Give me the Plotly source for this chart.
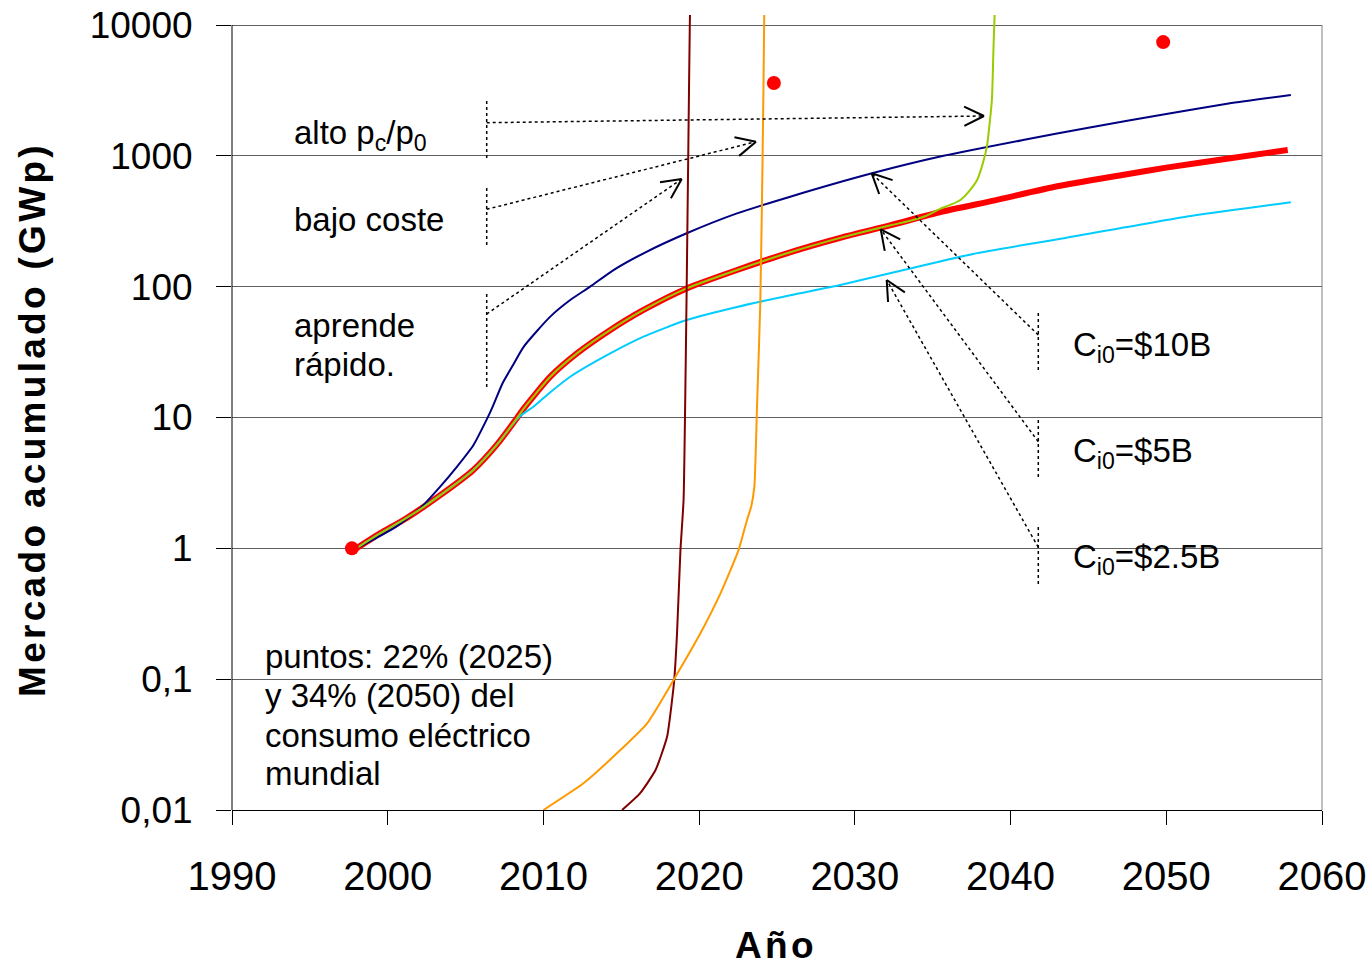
import math
import plotly.graph_objects as go

# ---------------- data ----------------
x_ticks = [1990, 2000, 2010, 2020, 2030, 2040, 2050, 2060]
y_tickvals = [0.01, 0.1, 1, 10, 100, 1000, 10000]
y_ticktext = ["0,01", "0,1", "1", "10", "100", "1000", "10000"]

# C_i0 = $10B (navy)
navy_years = [1998.0, 2000.37, 2002.08, 2003.37, 2004.44, 2005.51, 2006.4, 2006.7, 2007.4,
              2008.0, 2008.73, 2010.44, 2011.72, 2013.0, 2014.5, 2016.43, 2019.2, 2022.43,
              2025.85, 2031.1, 2035.7, 2040.8, 2045.0, 2050.0, 2054.0, 2058.0]
navy_vals = [1.0, 1.42, 2.02, 2.96, 4.2, 6.17, 9.9, 11.8, 18.5,
             24.6, 34.7, 59, 79, 100, 134, 180, 256, 363,
             487, 735, 1000, 1321, 1640, 2090, 2510, 2917]

# C_i0 = $5B (thick red)
red_years = [1998.0, 1999.5, 2001.2, 2003.4, 2005.5, 2007.0, 2008.3, 2008.73, 2010.44,
             2012.15, 2014.3, 2016.43, 2019.2, 2022.43, 2025.64, 2029.06, 2032.3, 2035.5,
             2039.0, 2043.0, 2047.0, 2050.0, 2054.0, 2057.8]
red_vals = [1.0, 1.3, 1.7, 2.56, 3.97, 6.17, 9.9, 11.7, 20.5,
            30.9, 46.7, 66.4, 97, 134, 180, 236, 295, 372,
            457, 585, 708, 813, 955, 1109]

# C_i0 = $2.5B (cyan)
cyan_years = [1998.0, 1999.5, 2001.2, 2003.4, 2005.5, 2007.0, 2008.4, 2009.4, 2010.5,
              2011.72, 2014.29, 2016.43, 2019.2, 2022.43, 2025.85, 2029.06, 2033.35,
              2037.6, 2043.2, 2051.75, 2058.0]
cyan_vals = [1.0, 1.3, 1.7, 2.56, 3.97, 6.17, 10.0, 12.2, 15.8,
             20.5, 30.9, 41.5, 55.6, 70, 86, 103, 136,
             178, 232, 350, 442]

# alto pc/p0 (yellow-green)
green_years = [1998.0, 1999.5, 2001.2, 2003.4, 2005.5, 2007.0, 2008.3, 2008.73, 2010.44,
               2012.15, 2014.3, 2016.43, 2019.2, 2022.43, 2025.64, 2029.06, 2032.3,
               2033.5, 2034.5, 2035.5, 2036.2, 2036.8, 2037.3, 2037.85, 2038.2, 2038.48,
               2038.65, 2038.8, 2038.9, 2038.97, 2039.0]
green_vals = [1.0, 1.3, 1.7, 2.56, 3.97, 6.17, 9.9, 11.7, 20.5,
              30.9, 46.7, 66.4, 97, 134, 180, 236, 295,
              318, 345, 395, 425, 462, 530, 653, 860, 1175,
              1750, 2673, 6445, 11500, 13000]

# bajo coste (orange)
orange_years = [2010.0, 2012.57, 2014.7, 2016.66, 2018.36, 2020.08, 2021.37, 2022.53,
                2023.07, 2023.35, 2023.55, 2023.71, 2023.92, 2024.03, 2024.13, 2024.18]
orange_vals = [0.01, 0.016, 0.027, 0.046, 0.0987, 0.224, 0.453, 0.97,
               1.64, 2.1, 3.0, 11.4, 70, 410, 3180, 12000]

# aprende rapido (dark red)
maroon_years = [2015.05, 2016.2, 2017.2, 2017.94, 2018.26, 2018.4, 2018.58, 2018.8,
                2019.0, 2019.1, 2019.2, 2019.3, 2019.4, 2019.45]
maroon_vals = [0.01, 0.0134, 0.0202, 0.0363, 0.069, 0.0987, 0.224, 0.97,
               2.34, 12, 100, 1000, 10000, 20000]

# target points: 22% (2025) and 34% (2050) of world electricity
dot_years = [1997.7, 2024.8, 2049.8]
dot_vals = [1.0, 3600, 7400]

# ---------------- layout geometry (reference pixel frame) ----------------
W, H = 1369, 967
L, R, T, B = 232, 1322, 15, 810    # plot area in reference pixels
GRID_TOP = 25                      # pixel row of the 10000 gridline
Y_LOG_MIN, Y_LOG_TOP_GRID = -2, 4
px_per_decade = (B - GRID_TOP) / (Y_LOG_TOP_GRID - Y_LOG_MIN)
y_log_max = Y_LOG_TOP_GRID + (GRID_TOP - T) / px_per_decade


def pp(x, y):
    """reference pixel -> paper coordinates"""
    return (x - L) / (R - L), (B - y) / (B - T)


FONT = "Liberation Sans, Arial, sans-serif"

fig = go.Figure()


def curve(xs, ys, color, width, smooth=0.6):
    fig.add_trace(go.Scatter(x=xs, y=ys, mode="lines",
                             line=dict(color=color, width=width, shape="spline",
                                       smoothing=smooth)))


curve(red_years, red_vals, "#FF0000", 6)
curve(cyan_years, cyan_vals, "#00CCFF", 2)
curve(navy_years, navy_vals, "#000080", 2)
curve(green_years, green_vals, "#99CC00", 2, 0.6)
curve(maroon_years, maroon_vals, "#800000", 2, 0.5)
curve(orange_years, orange_vals, "#FF9900", 2, 0.5)
fig.add_trace(go.Scatter(x=dot_years, y=dot_vals, mode="markers",
                         marker=dict(color="#FF0000", size=14), cliponaxis=False))

shapes = []
# left axis line and right border
x0, y0 = pp(L, B)
x1, y1 = pp(L, GRID_TOP)
shapes.append(dict(type="line", xref="paper", yref="paper", x0=x0, y0=y0, x1=x1, y1=y1,
                   line=dict(color="black", width=1)))
x0, y0 = pp(R, B)
x1, y1 = pp(R, GRID_TOP)
shapes.append(dict(type="line", xref="paper", yref="paper", x0=x0, y0=y0, x1=x1, y1=y1,
                   line=dict(color="#808080", width=1)))

# callouts (pixel geometry of the reference)
brackets = [(486.7, 101, 158), (486.7, 188, 246), (486.7, 294, 390),
            (1038.3, 313, 372), (1038.3, 420, 478), (1038.3, 527, 585)]
arrows = [((486.7, 122.7), (984, 116)), ((486.7, 209.3), (756, 141.7)),
          ((486.7, 314), (681.7, 179)), ((1038.3, 335), (871.7, 173.3)),
          ((1038.3, 441.7), (880.7, 229.3)), ((1038.3, 547.3), (886.7, 280))]

for bx, by0, by1 in brackets:
    a, b = pp(bx, by0)
    c, d = pp(bx, by1)
    shapes.append(dict(type="line", xref="paper", yref="paper", x0=a, y0=b, x1=c, y1=d,
                       line=dict(color="black", width=1.5, dash="dot")))

HEAD_LEN, HEAD_ANG = 22, math.radians(26)
for (sx, sy), (tx, ty) in arrows:
    a, b = pp(sx, sy)
    c, d = pp(tx, ty)
    shapes.append(dict(type="line", xref="paper", yref="paper", x0=a, y0=b, x1=c, y1=d,
                       line=dict(color="black", width=1.5, dash="dot")))
    ang = math.atan2(sy - ty, sx - tx)
    for sgn in (1, -1):
        ex = tx + HEAD_LEN * math.cos(ang + sgn * HEAD_ANG)
        ey = ty + HEAD_LEN * math.sin(ang + sgn * HEAD_ANG)
        a, b = pp(tx, ty)
        c, d = pp(ex, ey)
        shapes.append(dict(type="line", xref="paper", yref="paper", x0=a, y0=b, x1=c, y1=d,
                           line=dict(color="black", width=2)))

texts = [
    ("alto p<sub>c</sub>/p<sub>0</sub>", 292, 135),
    ("bajo coste", 292, 219),
    ("aprende", 292, 325),
    ("rápido.", 292, 364),
    ("C<sub>i0</sub>=$10B", 1071, 347),
    ("C<sub>i0</sub>=$5B", 1071, 453),
    ("C<sub>i0</sub>=$2.5B", 1071, 559),
    ("puntos: 22% (2025)", 263, 656),
    ("y 34% (2050) del", 263, 695),
    ("consumo eléctrico", 263, 735),
    ("mundial", 263, 773),
]
annotations = []
for txt, tx, ty in texts:
    a, b = pp(tx, ty)
    annotations.append(dict(text=txt, x=a, y=b, xref="paper", yref="paper",
                            xanchor="left", yanchor="middle", align="left", showarrow=False,
                            font=dict(family=FONT, size=33, color="black")))

# axis titles
a, b = pp(776, 945)
annotations.append(dict(text="<b>Año</b>", x=a, y=b, xref="paper", yref="paper",
                        xanchor="center", yanchor="middle", showarrow=False,
                        font=dict(family=FONT, size=37, color="black")))
a, b = pp(32, 420)
annotations.append(dict(text="<b>Mercado acumulado (GWp)</b>", x=a, y=b, xref="paper",
                        yref="paper", xanchor="center", yanchor="middle", showarrow=False,
                        textangle=-90,
                        font=dict(family=FONT, size=37, color="black")))

fig.update_layout(
    width=W, height=H,
    margin=dict(l=L, r=W - R, t=T, b=H - B, autoexpand=False),
    paper_bgcolor="white", plot_bgcolor="white",
    showlegend=False,
    shapes=shapes,
    annotations=annotations,
    xaxis=dict(range=[1990, 2060], tickvals=x_ticks, ticks="outside", ticklen=14,
               tickcolor="black", showline=True, linecolor="black", linewidth=1,
               showgrid=False, zeroline=False, ticklabelstandoff=17,
               ticklabeloverflow="allow",
               tickfont=dict(family=FONT, size=40, color="black")),
    yaxis=dict(type="log", range=[Y_LOG_MIN, y_log_max], tickvals=y_tickvals,
               ticktext=y_ticktext, ticks="outside", ticklen=15, tickcolor="black",
               showline=False, showgrid=True, gridcolor="#606060", gridwidth=1,
               zeroline=False, ticklabelstandoff=16, ticklabeloverflow="allow",
               tickfont=dict(family=FONT, size=37, color="black")),
)

post_js = """
document.body.style.margin = '0';
document.body.style.overflow = 'hidden';
var gd = document.getElementById('{plot_id}');
gd.querySelectorAll('.annotation-text').forEach(function(t){
  var s = t.textContent;
  if (s.indexOf('Mercado') === 0 || s === 'Año') { t.style.letterSpacing = '3.3px'; }
});
"""

fig.write_html("out.html", post_script=post_js, config={"displayModeBar": False})
